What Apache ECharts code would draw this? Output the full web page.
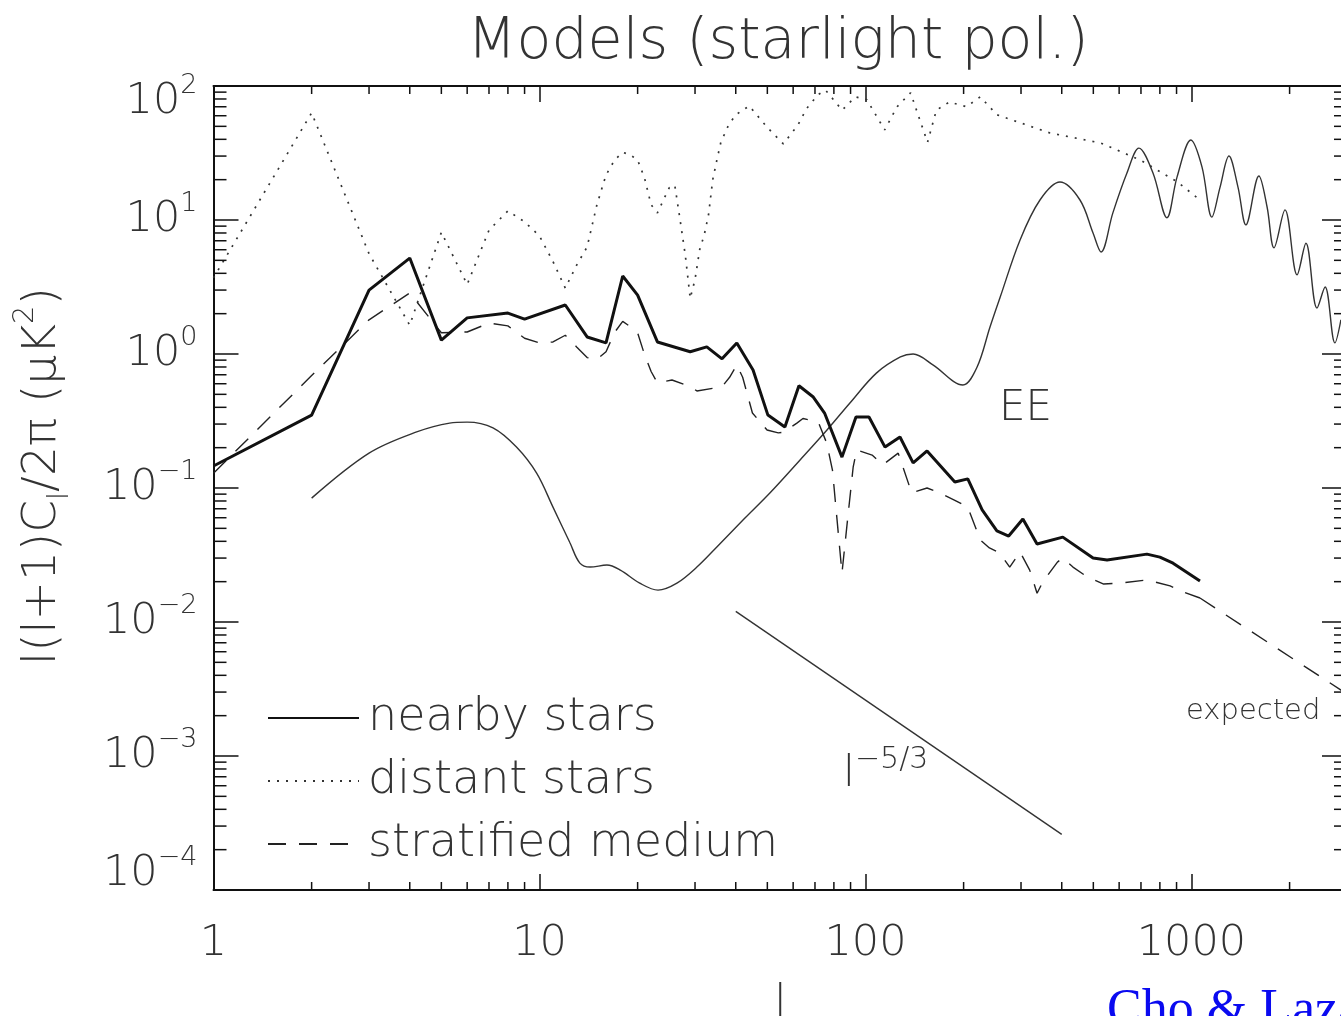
<!DOCTYPE html>
<html>
<head>
<meta charset="utf-8">
<title>Models (starlight pol.)</title>
<script src="https://cdn.jsdelivr.net/npm/echarts@6/dist/echarts.min.js"></script>
<style>
  html, body { margin: 0; padding: 0; background: #fff; }
  #chart { width: 1341px; height: 1016px; }
</style>
</head>
<body>
<div id="chart"></div>
<script>
// ---- data: l and l(l+1)C_l/2pi in muK^2 ----
const nearbyL = [1, 2, 3, 4, 5, 6, 8, 9, 12, 14, 16, 18, 20, 23, 29, 32.6, 36.3, 40.3, 45.2, 50.2, 56.6, 62.5, 69, 75, 84.7, 93.5, 102.5, 114.8, 127.6, 140, 154.5, 188, 206, 228, 253, 275, 304, 336, 403, 499, 551, 730, 800, 878, 1062];
const nearbyV = [0.146, 0.35, 3.0, 5.2, 1.27, 1.86, 2.02, 1.82, 2.32, 1.34, 1.21, 3.82, 2.75, 1.23, 1.04, 1.13, 0.92, 1.21, 0.76, 0.35, 0.285, 0.58, 0.48, 0.36, 0.17, 0.339, 0.339, 0.202, 0.24, 0.154, 0.189, 0.111, 0.117, 0.0686, 0.0478, 0.0438, 0.0587, 0.0382, 0.043, 0.030, 0.029, 0.0321, 0.0305, 0.0275, 0.0202];

const distantL = [1, 2, 3, 4, 5, 6, 7, 8, 9, 10, 11, 12, 13, 14, 15, 16, 17, 18, 19, 20, 21, 22, 23, 24, 25, 26, 27, 28, 29, 30, 31, 32, 33, 34, 35, 36, 38, 40, 44, 50, 56, 62, 66, 71.5, 75.5, 84.8, 93, 101, 114.5, 125, 137.5, 155, 165, 181, 204, 225, 253, 368, 526, 697, 907, 1062];
const distantV = [3.7, 63, 5.6, 1.64, 8.1, 3.3, 8.4, 11.7, 9.7, 7.6, 4.9, 3.1, 4.6, 6.3, 13, 21.7, 28, 32, 30.6, 28, 20.6, 13, 11.3, 14.1, 17.4, 18.2, 10, 5.5, 2.6, 3.6, 6.0, 7.7, 10.9, 20, 28, 38, 51, 61, 71, 49, 37, 51, 68, 86, 93, 66, 83, 79, 47, 70, 89, 38, 66, 76, 70, 83, 61, 44.6, 37.6, 28, 19.2, 14.1];

const stratL = [1, 2, 3, 4, 5, 6, 7, 8, 9, 10, 11, 12, 13, 14, 15, 16, 17, 18, 19, 20, 21, 22, 23, 25.5, 29, 30.4, 36.3, 38.3, 40.3, 42, 45, 49.9, 54, 56, 61.6, 64.3, 71.7, 76, 79.2, 84.7, 88.3, 91.7, 94, 104.8, 113, 126, 138.6, 154.5, 169, 188, 206, 225, 240, 258, 277, 298, 319, 336, 350, 388, 403, 433, 479, 538, 606, 730, 860, 942, 1062];
const stratV = [0.129, 0.69, 1.8, 2.85, 1.44, 1.46, 1.7, 1.62, 1.31, 1.21, 1.23, 1.38, 1.13, 0.94, 0.91, 1.04, 1.45, 1.75, 1.6, 1.44, 0.99, 0.74, 0.61, 0.64, 0.57, 0.53, 0.57, 0.67, 0.83, 0.67, 0.363, 0.271, 0.258, 0.26, 0.305, 0.33, 0.31, 0.217, 0.136, 0.0232, 0.061, 0.144, 0.192, 0.176, 0.149, 0.182, 0.092, 0.1, 0.092, 0.081, 0.072, 0.041, 0.0357, 0.0327, 0.0257, 0.0333, 0.0244, 0.0164, 0.0199, 0.028, 0.030, 0.0257, 0.0217, 0.0192, 0.0195, 0.0206, 0.0186, 0.0168, 0.0151];

const expectedL = [1062, 3000];
const expectedV = [0.0151, 0.0029];

const eeL = [2, 3, 4.2, 5.3, 6, 7.2, 8.5, 9.8, 11, 12.4, 13.3, 14.3, 16.1, 17.7, 20.3, 23.1, 26.4, 30.4, 35, 42.1, 50.9, 63, 76.2, 89.6, 108, 128, 140, 161, 199, 220, 241, 259, 298, 343, 395, 455, 499, 528, 574, 634, 690, 762, 841, 903, 996, 1077, 1155, 1224, 1303, 1389, 1469, 1610, 1706, 1791, 1936, 2109, 2245, 2427, 2570, 2754, 2874];
const eeV = [0.084, 0.182, 0.262, 0.305, 0.31, 0.281, 0.202, 0.129, 0.072, 0.039, 0.0275, 0.0257, 0.0266, 0.0244, 0.0195, 0.0173, 0.0195, 0.0257, 0.0363, 0.0577, 0.0918, 0.162, 0.271, 0.431, 0.72, 0.95, 1.0, 0.83, 0.587, 0.80, 1.59, 2.66, 7.1, 14.1, 19.2, 14.1, 8.0, 5.77, 11.3, 22.4, 34.4, 22.4, 10.4, 20.9, 39.5, 24.9, 10.5, 17.6, 30, 17.6, 9.2, 21.3, 12.5, 6.2, 11.9, 3.9, 6.7, 2.2, 3.16, 1.21, 1.8];

const slopeL = [40, 400];
const slopeV = [0.012, 0.00026];

// ---- axes ----
const xRange = [1, 3000];
const yRange = [1e-4, 100];
const xTickLabels = ['1', '10', '100', '1000'];
const yTickExponents = [-4, -3, -2, -1, 0, 1, 2];
const xDecades = [1, 10, 100, 1000];
const yDecades = [1e-4, 1e-3, 1e-2, 1e-1, 1, 10];
const minorSteps = [2, 3, 4, 5, 6, 7, 8, 9];

const zip = (a, b) => a.map((v, i) => [v, b[i]]);
const xMinorTicks = [];
xDecades.forEach(d => minorSteps.forEach(m => { if (d * m < xRange[1]) xMinorTicks.push(d * m); }));
const yMinorTicks = [];
yDecades.forEach(d => minorSteps.forEach(m => yMinorTicks.push(d * m)));

const FONT = '"DejaVu Sans", Lato, sans-serif';
const FW = 200;
const INK = '#111';
const TXT = '#333';

function decadeExp(v) { return Math.round(Math.log10(v)); }

function xLabel(v) {
  const e = decadeExp(v);
  if (Math.abs(Math.log10(v) - e) > 1e-6) return '';
  const idx = xDecades.findIndex(d => decadeExp(d) === e);
  return idx >= 0 ? xTickLabels[idx] : '';
}

function yLabel(v) {
  const e = decadeExp(v);
  if (yTickExponents.indexOf(e) < 0) return '';
  const sup = e < 0 ? '\u2212' + (-e) : String(e);
  const main = '{b|10}{s|' + sup + '}';
  if (e === yTickExponents[yTickExponents.length - 1]) return '{g| }\n' + main;
  if (e === yTickExponents[0]) return main + '\n{g| }';
  return main;
}

function minorX(params, api) {
  const cs = params.coordSys;
  const x = api.coord([api.value(0), 1])[0];
  const st = { stroke: INK, lineWidth: 1.5 };
  return { type: 'group', children: [
    { type: 'line', shape: { x1: x, y1: cs.y + cs.height, x2: x, y2: cs.y + cs.height - 8 }, style: st },
    { type: 'line', shape: { x1: x, y1: cs.y, x2: x, y2: cs.y + 8 }, style: st }
  ]};
}
function minorY(params, api) {
  const cs = params.coordSys;
  const y = api.coord([1, api.value(1)])[1];
  const st = { stroke: INK, lineWidth: 1.5 };
  return { type: 'group', children: [
    { type: 'line', shape: { x1: cs.x, y1: y, x2: cs.x + 13, y2: y }, style: st },
    { type: 'line', shape: { x1: cs.x + cs.width, y1: y, x2: cs.x + cs.width - 13, y2: y }, style: st }
  ]};
}

const axisLineStyle = { color: INK, width: 2 };
const txt = (size, extra) => Object.assign({ fontSize: size, fontFamily: FONT, fontWeight: FW, color: TXT }, extra || {});
const gtxt = (size, extra) => Object.assign({ fontSize: size, fontFamily: FONT, fontWeight: FW, fill: TXT }, extra || {});

const chart = echarts.init(document.getElementById('chart'), null, { renderer: 'canvas' });
chart.setOption({
  backgroundColor: '#fff',
  animation: false,
  grid: { left: 213.5, top: 86, width: 1133.5, height: 804, containLabel: false, outerBoundsMode: 'none' },
  xAxis: [
    {
      type: 'log', logBase: 10, min: xRange[0], max: xRange[1], position: 'bottom',
      axisLine: { lineStyle: axisLineStyle },
      axisTick: { inside: true, length: 16, lineStyle: { color: INK, width: 1.5 } },
      axisLabel: txt(43, { margin: 32, formatter: xLabel, showMaxLabel: false }),
      splitLine: { show: false },
      name: 'l', nameLocation: 'middle', nameGap: 93,
      nameTextStyle: txt(44)
    },
    {
      type: 'log', logBase: 10, min: xRange[0], max: xRange[1], position: 'top',
      axisLine: { lineStyle: axisLineStyle },
      axisTick: { inside: true, length: 16, lineStyle: { color: INK, width: 1.5 } },
      axisLabel: { show: false }, splitLine: { show: false }
    }
  ],
  yAxis: [
    {
      type: 'log', logBase: 10, min: yRange[0], max: yRange[1], position: 'left',
      axisLine: { lineStyle: axisLineStyle },
      axisTick: { inside: true, length: 25, lineStyle: { color: INK, width: 1.5 } },
      axisLabel: txt(43, {
        margin: 16, formatter: yLabel,
        rich: {
          b: txt(43, { lineHeight: 60 }),
          s: txt(27, { lineHeight: 28, verticalAlign: 'top' }),
          g: { fontSize: 10, lineHeight: 32 }
        }
      }),
      splitLine: { show: false }
    },
    {
      type: 'log', logBase: 10, min: yRange[0], max: yRange[1], position: 'right',
      axisLine: { lineStyle: axisLineStyle },
      axisTick: { inside: true, length: 25, lineStyle: { color: INK, width: 1.5 } },
      axisLabel: { show: false }, splitLine: { show: false }
    }
  ],
  legend: {
    orient: 'vertical', left: 262, top: 690, align: 'left',
    itemWidth: 91, itemHeight: 2, itemGap: 17, selectedMode: false,
    itemStyle: { opacity: 0 },
    data: ['nearby stars', 'distant stars', 'stratified medium'],
    textStyle: txt(46, { lineHeight: 46, padding: [0, 0, 0, 4] })
  },
  series: [
    {
      name: 'EE', type: 'line', data: zip(eeL, eeV), showSymbol: false, symbol: 'none',
      smooth: 0.35, lineStyle: { color: '#333', width: 1.4 }, z: 2
    },
    {
      name: 'l^-5/3', type: 'line', data: zip(slopeL, slopeV), symbol: 'none',
      lineStyle: { color: '#333', width: 1.4 }, z: 2
    },
    {
      name: 'distant stars', type: 'line', data: zip(distantL, distantV), symbol: 'none',
      color: '#333', lineStyle: { color: '#333', width: 1.7, type: [2, 7] }, z: 3
    },
    {
      name: 'stratified medium', type: 'line', data: zip(stratL, stratV), symbol: 'none',
      color: '#222', lineStyle: { color: '#222', width: 1.4, type: [18, 13] }, z: 3
    },
    {
      name: 'expected', type: 'line', data: zip(expectedL, expectedV), symbol: 'none',
      lineStyle: { color: '#222', width: 1.4, type: [18, 13] }, z: 3
    },
    {
      name: 'nearby stars', type: 'line', data: zip(nearbyL, nearbyV), symbol: 'none',
      color: '#111', lineStyle: { color: '#111', width: 3 }, z: 4
    },
    {
      name: 'minorX', type: 'custom', renderItem: minorX, silent: true, clip: false,
      data: xMinorTicks.map(v => [v, 1]), z: 5
    },
    {
      name: 'minorY', type: 'custom', renderItem: minorY, silent: true, clip: false,
      data: yMinorTicks.map(v => [1, v]), z: 5
    }
  ],
  graphic: [
    {
      type: 'text', x: 778, y: 43,
      style: gtxt(57, { text: 'Models (starlight pol.)', align: 'center', verticalAlign: 'middle' })
    },
    {
      type: 'text', x: 43, y: 476, rotation: Math.PI / 2,
      style: {
        text: '{n|l(l+1)C}{sub|l}{n|/2\u03c0 (\u03bcK}{sup|2}{n|)}',
        align: 'center', verticalAlign: 'middle', fill: TXT,
        rich: {
          n: gtxt(47, { lineHeight: 64 }),
          sub: gtxt(29, { lineHeight: 30, verticalAlign: 'bottom' }),
          sup: gtxt(29, { lineHeight: 30, verticalAlign: 'top' })
        }
      }
    },
    {
      type: 'text', x: 999, y: 409,
      style: gtxt(42, { text: 'EE', align: 'left', verticalAlign: 'middle' })
    },
    {
      type: 'text', x: 843, y: 775,
      style: {
        text: '{b|l}{s|\u22125/3}', align: 'left', verticalAlign: 'middle', fill: TXT,
        rich: {
          b: gtxt(43, { lineHeight: 60 }),
          s: gtxt(30, { lineHeight: 30, verticalAlign: 'top' })
        }
      }
    },
    {
      type: 'text', x: 1186, y: 711,
      style: gtxt(29, { text: 'expected', align: 'left', verticalAlign: 'middle' })
    },
    {
      type: 'text', x: 1107, y: 985,
      style: { text: 'Cho & Lazarian', fontSize: 52, fontFamily: '"Liberation Serif", "Times New Roman", serif', fill: '#0a0af0', align: 'left', verticalAlign: 'top' }
    }
  ]
});
</script>
</body>
</html>
